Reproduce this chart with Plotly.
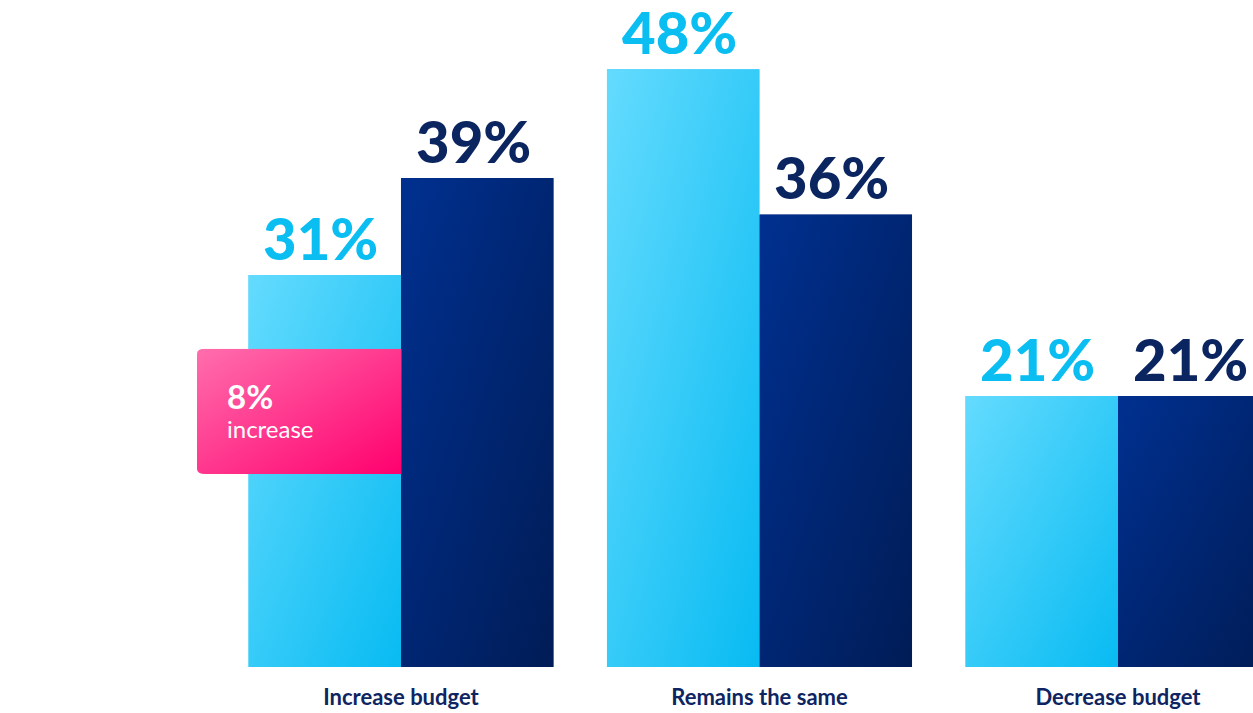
import base64
import plotly.graph_objects as go

# ---- data -------------------------------------------------------------
categories = ["Increase budget", "Remains the same", "Decrease budget"]
first_series = [31, 48, 21]    # light cyan bars
second_series = [39, 36, 21]   # dark navy bars
first_labels = [f"{v}%" for v in first_series]
second_labels = [f"{v}%" for v in second_series]

# ---- style ------------------------------------------------------------
LIGHT_TEXT = "#0BBEF2"
DARK_TEXT = "#0B2560"
LIGHT_FILL = "#35C9F8"
DARK_FILL = "#00277A"
Y_FLOOR = -1.4           # bars rest slightly below zero
Y_TOP = 53.72
X_RANGE = [-1.1185, 2.3766]
BARGAP = 0.149
BAR_W = (1 - BARGAP) / 2

positions = list(range(len(categories)))


def gradient_uri(c0, c1, rounded_left=False):
    if rounded_left:
        shape = ('<path d="M4,0 H100 V100 H4 Q0,100 0,96 V4 Q0,0 4,0 Z" '
                 'fill="url(#g)"/>')
    else:
        shape = '<rect x="0" y="0" width="100" height="100" fill="url(#g)"/>'
    svg = (
        '<svg xmlns="http://www.w3.org/2000/svg" width="100" height="100" '
        'viewBox="0 0 100 100" preserveAspectRatio="none">'
        '<defs><linearGradient id="g" x1="0" y1="0" x2="1" y2="1">'
        f'<stop offset="0" stop-color="{c0}"/>'
        f'<stop offset="1" stop-color="{c1}"/>'
        '</linearGradient></defs>' + shape + '</svg>'
    )
    return "data:image/svg+xml;base64," + base64.b64encode(svg.encode()).decode()


light_grad = gradient_uri("#64DBFE", "#08BBF2")
dark_grad = gradient_uri("#003090", "#001C56")
pink_grad = gradient_uri("#FF6EAD", "#FF006E", rounded_left=True)

fig = go.Figure()
fig.add_trace(go.Bar(
    x=positions, y=[v - Y_FLOOR for v in first_series], base=Y_FLOOR,
    marker=dict(color=LIGHT_FILL, line=dict(width=0)), name="First",
    hoverinfo="skip",
))
fig.add_trace(go.Bar(
    x=positions, y=[v - Y_FLOOR for v in second_series], base=Y_FLOOR,
    marker=dict(color=DARK_FILL, line=dict(width=0)), name="Second",
    hoverinfo="skip",
))

images = []
annotations = []
for i, (a, b) in enumerate(zip(first_series, second_series)):
    for x_left, v, src in ((i - BAR_W, a, light_grad), (i, b, dark_grad)):
        images.append(dict(
            source=src, xref="x", yref="y", x=x_left, y=v,
            sizex=BAR_W, sizey=v - Y_FLOOR, sizing="stretch",
            xanchor="left", yanchor="top", layer="above",
        ))
    for xc, v, txt, col in ((i - BAR_W / 2, a, first_labels[i], LIGHT_TEXT),
                            (i + BAR_W / 2, b, second_labels[i], DARK_TEXT)):
        annotations.append(dict(
            x=xc, y=v, xref="x", yref="y", text=txt, showarrow=False,
            xanchor="center", yanchor="bottom", xshift=-4, yshift=1,
            font=dict(family="Lato", size=58, color=col, weight=900),
        ))

# callout on the first group: change from the light to the dark bar
change = second_series[0] - first_series[0]
box_x0, box_x1 = -0.569, 0.002
box_top, box_bottom = 24.9, 14.55
images.append(dict(
    source=pink_grad, xref="x", yref="y", x=box_x0, y=box_top,
    sizex=box_x1 - box_x0, sizey=box_top - box_bottom, sizing="stretch",
    xanchor="left", yanchor="top", layer="above",
))
annotations.append(dict(
    x=-0.4915, y=21.0, xref="x", yref="y", text=f"<b>{change}%</b>",
    showarrow=False, xanchor="left", yanchor="middle",
    font=dict(family="Lato", size=33, color="white"),
))
annotations.append(dict(
    x=-0.4915, y=18.35, xref="x", yref="y", text="increase",
    showarrow=False, xanchor="left", yanchor="middle",
    font=dict(family="Lato", size=24, color="white"),
))

fig.update_layout(
    width=1253, height=713,
    margin=dict(l=0, r=0, t=0, b=46, autoexpand=False),
    paper_bgcolor="white", plot_bgcolor="white",
    barmode="group", bargap=BARGAP, bargroupgap=0,
    showlegend=False,
    images=images, annotations=annotations,
    xaxis=dict(
        range=X_RANGE, tickmode="array", tickvals=positions,
        ticktext=categories, showgrid=False, zeroline=False, showline=False,
        ticks="", ticklabelstandoff=15, automargin=False,
        tickfont=dict(family="Lato", size=22, color="#0E2561", weight=700),
    ),
    yaxis=dict(range=[Y_FLOOR, Y_TOP], visible=False, showgrid=False,
               zeroline=False, automargin=False),
)

fig.write_html("out.html")
